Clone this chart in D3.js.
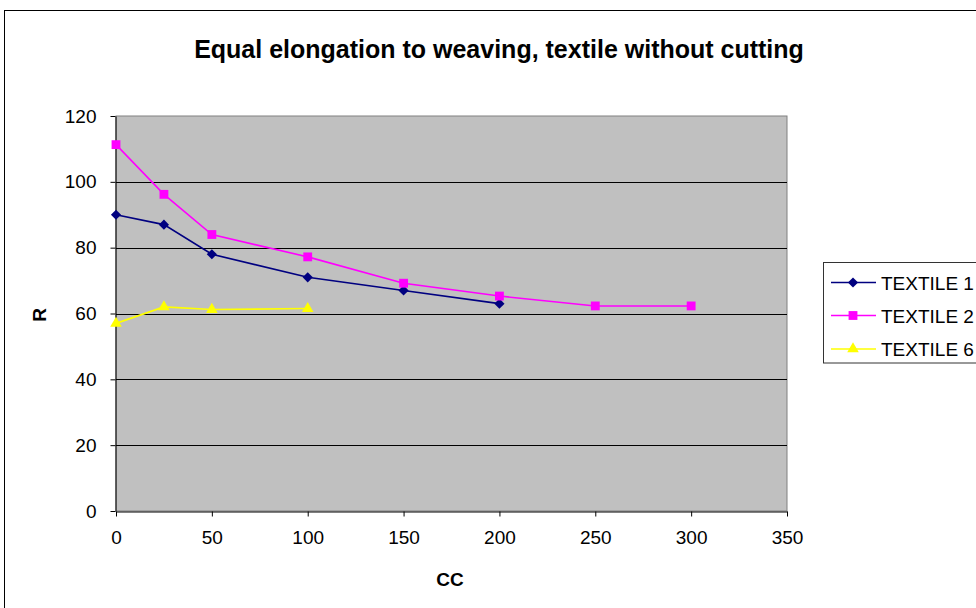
<!DOCTYPE html>
<html>
<head>
<meta charset="utf-8">
<script src="https://cdn.jsdelivr.net/npm/d3@7"></script>
<style>
  html, body { margin: 0; padding: 0; background: #fff; }
  svg { display: block; font-family: "Liberation Sans", Arial, sans-serif; }
</style>
</head>
<body>
<svg id="chart" width="976" height="608"></svg>
<script>
// Chart data
const xTicks = [0, 50, 100, 150, 200, 250, 300, 350];
const yTicks = [0, 20, 40, 60, 80, 100, 120];

const textile1X = [0, 25, 50, 100, 150, 200];
const textile1Y = [90, 87, 78, 71, 67, 63];

const textile2X = [0, 25, 50, 100, 150, 200, 250, 300];
const textile2Y = [111.3, 96.2, 84, 77.2, 69.2, 65.3, 62.3, 62.3];

const textile6X = [0, 25, 50, 100];
const textile6Y = [57, 62, 61.2, 61.5];

const seriesNames = ["TEXTILE 1", "TEXTILE 2", "TEXTILE 6"];

const series = [
  { name: seriesNames[0], xs: textile1X, ys: textile1Y, color: "#000080", symbol: d3.symbolDiamond2, size: 66 },
  { name: seriesNames[1], xs: textile2X, ys: textile2Y, color: "#ff00ff", symbol: d3.symbolSquare, size: 78 },
  { name: seriesNames[2], xs: textile6X, ys: textile6Y, color: "#ffff00", symbol: d3.symbolTriangle, size: 58 }
];

const svg = d3.select("#chart");

// Outer chart frame
svg.append("rect")
  .attr("x", 4.5).attr("y", 10.5)
  .attr("width", 1000).attr("height", 700)
  .attr("fill", "#fff").attr("stroke", "#000").attr("stroke-width", 1);

const plot = { left: 116, top: 116, right: 787, bottom: 511 };

const x = d3.scaleLinear().domain([0, 350]).range([plot.left, plot.right]);
const y = d3.scaleLinear().domain([0, 120]).range([plot.bottom, plot.top]);

// Plot background
svg.append("rect")
  .attr("x", plot.left).attr("y", plot.top)
  .attr("width", plot.right - plot.left).attr("height", plot.bottom - plot.top)
  .attr("fill", "#c0c0c0").attr("stroke", "#808080").attr("stroke-width", 1);

// Horizontal gridlines
svg.append("g")
  .selectAll("line")
  .data(yTicks.filter(v => v > 0 && v < 120))
  .join("line")
  .attr("x1", plot.left).attr("x2", plot.right)
  .attr("y1", d => Math.round(y(d)) + 0.5).attr("y2", d => Math.round(y(d)) + 0.5)
  .attr("stroke", "#000").attr("stroke-width", 1);

// Axes
const xAxis = svg.append("g")
  .attr("transform", `translate(0,${plot.bottom + 0.5})`)
  .call(d3.axisBottom(x).tickValues(xTicks).tickSize(5).tickPadding(14).tickSizeOuter(0));
const yAxis = svg.append("g")
  .attr("transform", `translate(${plot.left - 0.5},0)`)
  .call(d3.axisLeft(y).tickValues(yTicks).tickSize(5).tickPadding(14).tickSizeOuter(0));

[xAxis, yAxis].forEach(g => {
  g.selectAll("path.domain").attr("stroke", "#000").attr("stroke-width", 1);
  g.selectAll(".tick line").attr("stroke", "#000");
  g.selectAll(".tick text")
    .attr("font-size", 19)
    .attr("font-family", "'Liberation Sans', Arial, sans-serif")
    .attr("fill", "#000");
});

// Series lines and markers
const line = d3.line().x(d => x(d[0])).y(d => y(d[1]));

series.forEach(s => {
  const pts = s.xs.map((v, i) => [v, s.ys[i]]);
  svg.append("path")
    .datum(pts)
    .attr("d", line)
    .attr("fill", "none")
    .attr("stroke", s.color)
    .attr("stroke-width", 1.6);
  svg.append("g")
    .selectAll("path")
    .data(pts)
    .join("path")
    .attr("d", d3.symbol().type(s.symbol).size(s.size))
    .attr("transform", d => `translate(${x(d[0])},${y(d[1])})`)
    .attr("fill", s.color);
});

// Title
svg.append("text")
  .attr("x", 499).attr("y", 58)
  .attr("text-anchor", "middle")
  .attr("font-size", 25).attr("font-weight", "bold")
  .text("Equal elongation to weaving, textile without cutting");

// Axis titles
svg.append("text")
  .attr("x", 450).attr("y", 586)
  .attr("text-anchor", "middle")
  .attr("font-size", 19).attr("font-weight", "bold")
  .text("CC");
svg.append("text")
  .attr("transform", "translate(46,315) rotate(-90)")
  .attr("text-anchor", "middle")
  .attr("font-size", 19).attr("font-weight", "bold")
  .text("R");

// Legend
const legend = svg.append("g");
legend.append("rect")
  .attr("x", 823.5).attr("y", 262.5)
  .attr("width", 200).attr("height", 100.5)
  .attr("fill", "#fff").attr("stroke", "#333").attr("stroke-width", 1);

const rowY = [282.5, 315.5, 349];
series.forEach((s, i) => {
  const g = legend.append("g").attr("transform", `translate(0,${rowY[i]})`);
  g.append("line")
    .attr("x1", 831).attr("x2", 876).attr("y1", 0).attr("y2", 0)
    .attr("stroke", s.color).attr("stroke-width", 1.6);
  g.append("path")
    .attr("d", d3.symbol().type(s.symbol).size(s.size))
    .attr("transform", "translate(853,0)")
    .attr("fill", s.color);
  g.append("text")
    .attr("x", 881).attr("y", 7)
    .attr("font-size", 19)
    .text(s.name);
});
</script>
</body>
</html>
